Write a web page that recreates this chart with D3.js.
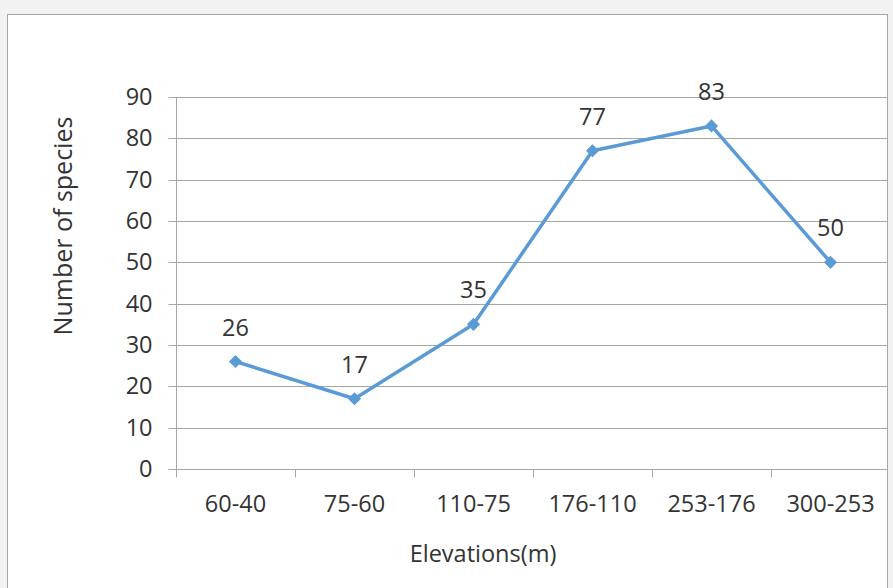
<!DOCTYPE html>
<html>
<head>
<meta charset="utf-8">
<script src="https://cdn.jsdelivr.net/npm/d3@7"></script>
<style>
  html, body { margin: 0; padding: 0; background: #f2f2f2; }
  svg { display: block; font-family: "Open Sans", sans-serif; }
</style>
</head>
<body>
<svg id="chart"></svg>
<script>
var categories = ["60-40", "75-60", "110-75", "176-110", "253-176", "300-253"];
var species = [26, 17, 35, 77, 83, 50];
var yTicks = [0, 10, 20, 30, 40, 50, 60, 70, 80, 90];

var width = 893, height = 588;
var plotLeft = 176, plotRight = 890, plotTop = 97, plotBottom = 469;
var lineColor = "#5b9bd5";
var textColor = "#333333";
var fontSize = "23.5px";

var svg = d3.select("#chart").attr("width", width).attr("height", height);

// chart frame
svg.append("rect")
    .attr("x", 7.5).attr("y", 14.5)
    .attr("width", 880).attr("height", 600)
    .attr("fill", "#fff")
    .attr("stroke", "#a6a6a6");

svg.append("clipPath").attr("id", "frame")
    .append("rect").attr("x", 8).attr("y", 15).attr("width", 879).attr("height", 600);

var g = svg.append("g").attr("clip-path", "url(#frame)");

var x = d3.scaleBand().domain(categories).range([plotLeft, plotRight]);
var y = d3.scaleLinear().domain([0, 90]).range([plotBottom, plotTop]);

// gridlines
g.selectAll("line.grid")
    .data(yTicks.slice(1))
    .enter().append("line")
    .attr("class", "grid")
    .attr("x1", plotLeft).attr("x2", plotRight)
    .attr("y1", d => Math.round(y(d)) + 0.5)
    .attr("y2", d => Math.round(y(d)) + 0.5)
    .attr("stroke", "#a6a6a6");

// y axis
var yAxis = g.append("g")
    .attr("transform", "translate(" + (plotLeft + 0.5) + ",0)")
    .call(d3.axisLeft(y).tickValues(yTicks).tickSize(8).tickPadding(16));
yAxis.select(".domain").attr("stroke", "#a6a6a6")
    .attr("d", "M0," + (Math.round(y(90)) + 0.5) + "V" + (Math.round(y(0)) + 0.5));
yAxis.selectAll(".tick").attr("transform", d => "translate(0," + (Math.round(y(d)) + 0.5) + ")");
yAxis.selectAll(".tick line").attr("stroke", "#a6a6a6");
yAxis.selectAll(".tick text")
    .attr("fill", textColor).attr("font-size", fontSize)
    .attr("font-family", "Open Sans, sans-serif");

// x axis
var xAxis = g.append("g")
    .attr("transform", "translate(0," + (Math.round(plotBottom) + 0.5) + ")")
    .call(d3.axisBottom(x).tickSize(0).tickPadding(26));
xAxis.select(".domain").attr("stroke", "#a6a6a6").attr("d", "M" + plotLeft + ",0H" + plotRight);
xAxis.selectAll(".tick text")
    .attr("fill", textColor).attr("font-size", fontSize)
    .attr("font-family", "Open Sans, sans-serif");
xAxis.selectAll("line.sep")
    .data(categories.concat(["end"]))
    .enter().append("line")
    .attr("class", "sep")
    .attr("x1", (d, i) => Math.round(plotLeft + i * x.bandwidth()) + 0.5)
    .attr("x2", (d, i) => Math.round(plotLeft + i * x.bandwidth()) + 0.5)
    .attr("y1", 0).attr("y2", 8)
    .attr("stroke", "#a6a6a6");

// line
var line = d3.line()
    .x((d, i) => x(categories[i]) + x.bandwidth() / 2)
    .y(d => y(d));

g.append("path")
    .datum(species)
    .attr("d", line)
    .attr("fill", "none")
    .attr("stroke", lineColor)
    .attr("stroke-width", 3.5)
    .attr("stroke-linejoin", "round");

g.selectAll("path.marker")
    .data(species)
    .enter().append("path")
    .attr("class", "marker")
    .attr("d", d3.symbol().type(d3.symbolDiamond2).size(110))
    .attr("transform", (d, i) => "translate(" + (x(categories[i]) + x.bandwidth() / 2) + "," + y(d) + ")")
    .attr("fill", lineColor);

// data labels
g.selectAll("text.lbl")
    .data(species)
    .enter().append("text")
    .attr("class", "lbl")
    .attr("x", (d, i) => x(categories[i]) + x.bandwidth() / 2)
    .attr("y", d => y(d) - 26)
    .attr("text-anchor", "middle")
    .attr("fill", textColor)
    .attr("font-size", fontSize)
    .text(d => d);

// axis titles
g.append("text")
    .attr("x", 483).attr("y", 562)
    .attr("text-anchor", "middle")
    .attr("fill", textColor)
    .attr("font-size", "23.5px")
    .text("Elevations(m)");

g.append("text")
    .attr("transform", "translate(72,226) rotate(-90)")
    .attr("text-anchor", "middle")
    .attr("fill", textColor)
    .attr("font-size", "25px")
    .text("Number of species");
</script>
</body>
</html>
